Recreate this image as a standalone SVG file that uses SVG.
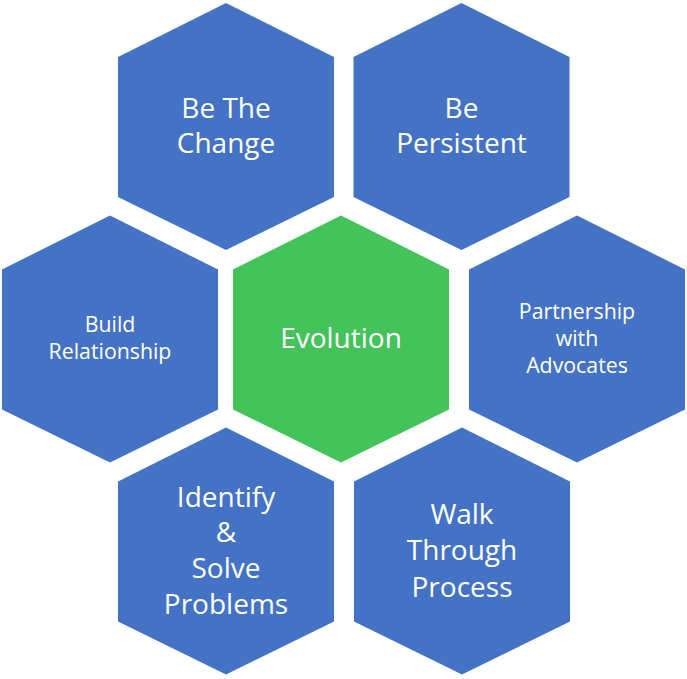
<svg xmlns="http://www.w3.org/2000/svg" width="687" height="679" viewBox="0 0 687 679">
  <style>
    .blue { fill: #4472c4; }
    .green { fill: #44c35a; }
    text { font-family: "Open Sans", "Noto Sans", "DejaVu Sans", sans-serif; fill: #ffffff; text-anchor: middle; }
    .big { font-size: 28px; }
    .small { font-size: 21.3px; }
  </style>
  <defs>
    <!-- pointy-top hexagon, origin at its top vertex -->
    <polygon id="hex" points="0,0 108,54 108,194 0,247 -108,194 -108,54"/>
  </defs>

  <rect width="687" height="679" fill="#ffffff"/>

  <g id="be-the-change">
    <use href="#hex" x="226" y="3" class="blue"/>
    <text class="big" x="226" y="118">Be The</text>
    <text class="big" x="226" y="153">Change</text>
  </g>

  <g id="be-persistent">
    <use href="#hex" x="461.5" y="3" class="blue"/>
    <text class="big" x="461.5" y="118">Be</text>
    <text class="big" x="461.5" y="153">Persistent</text>
  </g>

  <g id="build-relationship">
    <use href="#hex" x="110" y="215.5" class="blue"/>
    <text class="small" x="110" y="331.5">Build</text>
    <text class="small" x="110" y="358.5">Relationship</text>
  </g>

  <g id="evolution">
    <use href="#hex" x="341" y="215.5" class="green"/>
    <text class="big" x="341" y="347.5">Evolution</text>
  </g>

  <g id="partnership-with-advocates">
    <use href="#hex" x="577" y="215.5" class="blue"/>
    <text class="small" x="577" y="319">Partnership</text>
    <text class="small" x="577" y="346">with</text>
    <text class="small" x="577" y="372.5">Advocates</text>
  </g>

  <g id="identify-solve-problems">
    <use href="#hex" x="226" y="427.5" class="blue"/>
    <text class="big" x="226" y="507">Identify</text>
    <text class="big" x="226" y="542">&amp;</text>
    <text class="big" x="226" y="578">Solve</text>
    <text class="big" x="226" y="614">Problems</text>
  </g>

  <g id="walk-through-process">
    <use href="#hex" x="462" y="427.5" class="blue"/>
    <text class="big" x="462" y="524">Walk</text>
    <text class="big" x="462" y="560">Through</text>
    <text class="big" x="462" y="596.5">Process</text>
  </g>
</svg>
